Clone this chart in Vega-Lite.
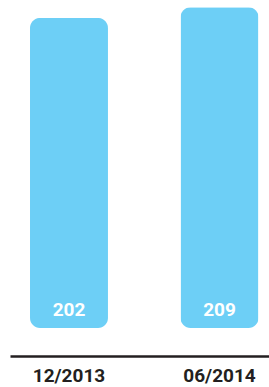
{
  "$schema": "https://vega.github.io/schema/vega-lite/v6.json",
  "autosize": "none",
  "padding": {"top": 0, "left": 0, "right": 0, "bottom": 59},
  "width": 269,
  "height": 328,
  "background": "white",
  "config": {"view": {"stroke": null}},
  "data": {"values": [
    {"period": "12/2013", "value": 202},
    {"period": "06/2014", "value": 209}
  ]},
  "encoding": {
    "x": {
      "field": "period", "type": "nominal", "sort": null,
      "scale": {"range": [10, 269], "paddingInner": 0.482, "paddingOuter": 0.1013, "align": 0.656},
      "axis": {
        "title": null, "ticks": false, "labelAngle": 0, "offset": 28,
        "domainColor": "#231f20", "domainWidth": 2.5,
        "labelFont": "Roboto", "labelFontSize": 19, "labelFontWeight": "bold", "labelColor": "#231f20",
        "labelPadding": 10
      }
    }
  },
  "layer": [
    {
      "mark": {"type": "bar", "color": "#6dcff6", "cornerRadius": 10},
      "encoding": {
        "y": {"field": "value", "type": "quantitative", "scale": {"domain": [0, 213.7]}, "axis": null}
      }
    },
    {
      "mark": {"type": "text", "color": "white", "fontWeight": "bold", "fontSize": 19,
               "font": "Roboto", "baseline": "alphabetic", "dy": -12},
      "encoding": {
        "y": {"datum": 0, "type": "quantitative", "scale": {"domain": [0, 213.7]}},
        "text": {"field": "value", "type": "quantitative"}
      }
    }
  ]
}
